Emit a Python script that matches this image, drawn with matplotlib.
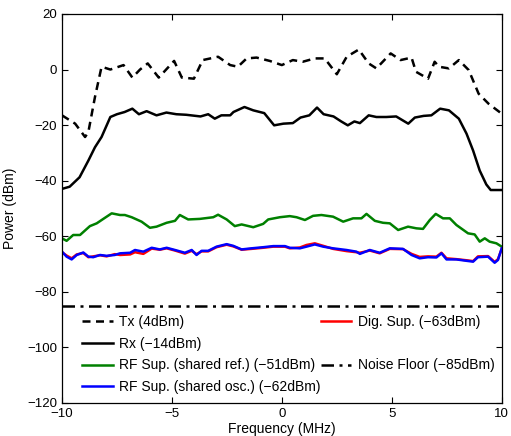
import matplotlib
matplotlib.use("Agg")
import matplotlib.pyplot as plt
from matplotlib.lines import Line2D

plt.rcParams['font.family'] = ['Liberation Sans', 'DejaVu Sans']

# Tx (dashed)
tx_f = [-10, -9.4, -8.95, -8.8, -8.5, -8.2, -7.8, -7.2, -6.8, -6.45, -6.1, -5.6, -4.9, -4.55,
        -4.0, -3.6, -2.9, -2.35, -2.0, -1.6, -1.15, -0.55, 0.0, 0.5, 0.95, 1.5, 1.95, 2.5,
        2.95, 3.5, 3.95, 4.3, 4.95, 5.4, 5.9, 6.1, 6.65, 6.95, 7.15, 7.6, 8.05, 8.5, 8.95,
        9.4, 10]
tx_p = [-16.5, -19.5, -24.3, -22.5, -9.9, 1.0, 0.0, 1.6, -2.9, 0.0, 2.2, -2.9, 3.1, -2.9,
        -3.3, 3.4, 4.6, 1.6, 1.0, 4.0, 4.3, 3.1, 1.6, 3.4, 2.8, 4.0, 4.0, -1.7,
        4.6, 7.2, 2.2, 0.4, 5.8, 3.4, 4.3, -0.8, -3.3, 2.8, 1.0, 0.4, 3.4, -0.2, -8.7,
        -12.3, -15.9]

# Rx (solid black)
rx_f = [-10, -9.65, -9.2, -8.8, -8.5, -8.2, -7.8, -7.5, -7.15, -6.8, -6.5, -6.15, -5.7,
        -5.25, -4.8, -4.35, -3.7, -3.35, -3.05, -2.75, -2.35, -2.2, -1.7, -1.3, -0.8, -0.35,
        0.07, 0.5, 0.85, 1.25, 1.6, 1.9, 2.35, 2.7, 3.0, 3.3, 3.55, 3.95, 4.3, 4.75, 5.2,
        5.75, 6.05, 6.45, 6.8, 7.2, 7.6, 8.05, 8.4, 8.7, 9.0, 9.3, 9.5, 10]
rx_p = [-43.0, -42.2, -38.8, -32.8, -28.0, -24.3, -17.1, -16.1, -15.3, -14.1, -16.1, -15.0,
        -16.5, -15.5, -16.1, -16.3, -16.9, -16.1, -17.7, -16.5, -16.5, -15.3, -13.5, -14.7,
        -15.7, -20.1, -19.5, -19.3, -17.3, -16.5, -13.7, -16.1, -16.9, -18.7, -20.1, -18.7,
        -19.3, -16.5, -17.1, -17.1, -16.9, -19.5, -17.3, -16.7, -16.5, -14.1, -14.7, -17.7,
        -23.1, -29.2, -36.4, -41.4, -43.4, -43.4]

# RF Sup. (shared ref.) (green)
ref_f = [-10, -9.79, -9.49, -9.18, -8.73, -8.42, -8.12, -7.74, -7.36, -7.14, -6.83, -6.38,
         -6.0, -5.7, -5.24, -4.86, -4.64, -4.26, -3.73, -3.12, -2.9, -2.51, -2.14, -1.83,
         -1.3, -0.85, -0.62, -0.09, 0.36, 0.67, 1.05, 1.42, 1.8, 2.33, 2.79, 3.24, 3.62,
         3.85, 4.23, 4.6, 4.91, 5.29, 5.74, 6.12, 6.42, 6.73, 7.0, 7.33, 7.64, 7.94, 8.47,
         8.77, 9.0, 9.23, 9.45, 9.76, 10]
ref_p = [-60.8, -61.7, -59.6, -59.6, -56.4, -55.4, -53.8, -51.8, -52.4, -52.4, -53.2, -54.8,
         -57.0, -56.6, -55.2, -54.5, -52.4, -54.0, -53.8, -53.2, -52.3, -54.0, -56.4, -55.8,
         -56.8, -55.6, -54.0, -53.2, -52.8, -53.2, -54.2, -52.7, -52.4, -53.0, -54.8, -53.6,
         -53.6, -52.0, -54.5, -55.2, -55.4, -57.8, -56.6, -57.2, -57.4, -54.2, -52.0, -53.6,
         -53.6, -56.0, -59.0, -59.4, -62.0, -60.8, -62.0, -62.6, -63.8]

# RF Sup. (shared osc.) (blue)
osc_f = [-10, -9.79, -9.56, -9.33, -9.03, -8.8, -8.58, -8.27, -7.97, -7.6, -7.36, -6.9,
         -6.68, -6.3, -5.92, -5.55, -5.24, -4.86, -4.41, -4.1, -3.88, -3.65, -3.35, -2.97,
         -2.51, -2.21, -1.83, -1.38, -0.85, -0.39, 0.14, 0.36, 0.82, 1.12, 1.5, 1.88, 2.33,
         2.94, 3.39, 3.55, 4.0, 4.45, 4.91, 5.51, 5.9, 6.27, 6.65, 7.03, 7.26, 7.49, 7.94,
         8.4, 8.7, 8.92, 9.38, 9.68, 9.83, 10]
osc_p = [-65.6, -67.4, -68.4, -66.8, -65.9, -67.4, -67.6, -66.8, -67.1, -66.8, -66.2, -66.0,
         -65.0, -65.6, -64.2, -64.8, -64.2, -65.0, -66.0, -65.0, -66.8, -65.3, -65.3, -63.8,
         -62.9, -63.5, -64.8, -64.4, -64.0, -63.6, -63.6, -64.2, -64.4, -63.8, -63.0, -63.8,
         -64.4, -65.0, -65.6, -66.4, -65.0, -66.0, -64.4, -64.6, -66.8, -68.0, -67.6, -67.7,
         -66.2, -68.4, -68.4, -68.9, -69.2, -67.6, -67.4, -69.6, -68.6, -64.4]

# Dig. Sup. (red)
dig_p = [-65.8, -67.0, -68.0, -66.6, -66.1, -67.6, -67.3, -66.9, -67.3, -66.5, -66.8, -66.6,
         -65.8, -66.4, -64.5, -64.9, -64.4, -65.2, -66.3, -65.3, -66.5, -65.5, -65.5, -64.0,
         -63.1, -63.7, -64.9, -64.6, -64.2, -63.8, -63.8, -64.4, -64.1, -63.2, -62.6, -63.5,
         -64.6, -65.4, -65.8, -66.0, -65.2, -66.2, -64.6, -64.7, -66.4, -67.5, -67.3, -67.4,
         -66.0, -68.0, -68.3, -68.7, -69.0, -67.3, -67.2, -69.3, -68.3, -64.6]

noise_floor = -85

labels = ['Tx (4dBm)', 'Rx (\u221214dBm)', 'RF Sup. (shared ref.) (\u221251dBm)',
          'RF Sup. (shared osc.) (\u221262dBm)', 'Dig. Sup. (\u221263dBm)',
          'Noise Floor (\u221285dBm)']

fig = plt.figure(figsize=(5.11, 4.36), dpi=100)
ax = fig.add_axes([0.1213, 0.0764, 0.8605, 0.8915])

lw = 1.8
h_tx, = ax.plot(tx_f, tx_p, color='black', lw=lw, dashes=(3.2, 2.2))
h_rx, = ax.plot(rx_f, rx_p, color='black', lw=lw)
h_ref, = ax.plot(ref_f, ref_p, color='#008000', lw=lw)
h_dig, = ax.plot(osc_f, dig_p, color='red', lw=lw)
h_osc, = ax.plot(osc_f, osc_p, color='blue', lw=lw)
h_nf = ax.axhline(noise_floor, color='black', lw=lw, dashes=(5, 2.2, 1.2, 2.2))

ax.set_xlim(-10, 10)
ax.set_ylim(-120, 20)
ax.set_xticks([-10, -5, 0, 5, 10])
ax.set_yticks([-120, -100, -80, -60, -40, -20, 0, 20])
ax.tick_params(direction='in', top=True, right=True, labelsize=9.5, length=4, width=0.8)
ax.set_xlabel('Frequency (MHz)', fontsize=10, labelpad=1.5)
ax.set_ylabel('Power (dBm)', fontsize=10, labelpad=7)
for s in ax.spines.values():
    s.set_linewidth(0.9)

blank = Line2D([], [], color='none')
handles = [h_tx, h_rx, h_ref, h_osc, h_dig, blank, h_nf, blank]
leg_labels = [labels[0], labels[1], labels[2], labels[3], labels[4], '', labels[5], '']
ax.legend(handles, leg_labels, ncol=2, frameon=False, fontsize=10,
          loc='upper left', bbox_to_anchor=(0.018, 0.258),
          handlelength=2.2, handletextpad=0.45, columnspacing=0.0, labelspacing=0.56)

fig.savefig('out.png', dpi=100)
